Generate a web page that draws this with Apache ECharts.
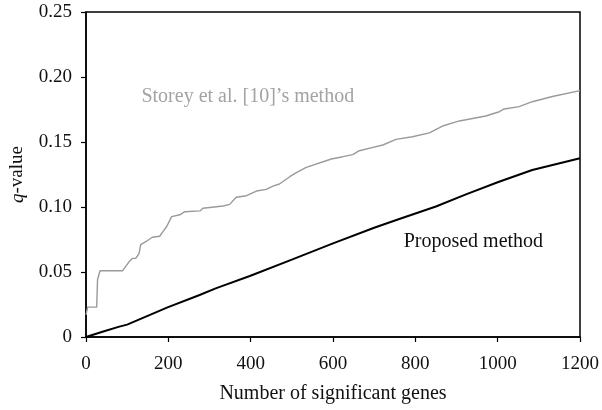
<!DOCTYPE html>
<html>
<head>
<meta charset="utf-8">
<script src="https://cdn.jsdelivr.net/npm/echarts@6/dist/echarts.min.js"></script>
<style>
  html, body { margin: 0; padding: 0; background: #fff; }
  #chart { width: 602px; height: 410px; }
</style>
</head>
<body>
<div id="chart"></div>
<script>
// Storey et al. [10]'s method (grey staircase curve)
const storeyX = [0, 4, 26, 28, 34, 89, 93, 105, 113, 121, 129, 133, 145, 161, 179, 187, 196, 208, 228, 240, 277, 284, 333, 349, 365, 390, 414, 438, 454, 470, 495, 511, 535, 596, 624, 648, 664, 697, 721, 753, 793, 834, 866, 907, 971, 1004, 1016, 1052, 1084, 1133, 1200];
const storeyQ = [0.017, 0.023, 0.023, 0.044, 0.051, 0.051, 0.0525, 0.058, 0.0605, 0.0605, 0.0644, 0.071, 0.0733, 0.0767, 0.0775, 0.081, 0.085, 0.0926, 0.094, 0.0964, 0.097, 0.099, 0.1008, 0.102, 0.1075, 0.1087, 0.1123, 0.1136, 0.116, 0.1177, 0.1233, 0.1264, 0.1305, 0.1369, 0.1387, 0.1403, 0.1433, 0.1459, 0.1477, 0.152, 0.154, 0.157, 0.1623, 0.1662, 0.170, 0.1733, 0.1754, 0.1772, 0.181, 0.185, 0.1895];
// Proposed method (black curve)
const proposedX = [0, 40, 81, 100, 198, 276, 315, 398, 500, 600, 700, 761, 850, 923, 1000, 1084, 1200];
const proposedQ = [0, 0.004, 0.008, 0.0095, 0.0228, 0.0323, 0.0374, 0.0469, 0.0595, 0.072, 0.084, 0.0908, 0.1004, 0.1097, 0.119, 0.1285, 0.1375];
// tick settings
const xMax = 1200, xStep = 200;
const yMax = 0.25, yStep = 0.05;

const pair = (xs, ys) => xs.map((x, i) => [x, ys[i]]);
const serif = 'Liberation Serif';

const chart = echarts.init(document.getElementById('chart'));
chart.setOption({
    animation: false,
    grid: {
        left: 86, right: 21, top: 12, bottom: 73,
        show: true, borderColor: '#000', borderWidth: 1.5, backgroundColor: 'transparent'
    },
    xAxis: {
        type: 'value', min: 0, max: xMax, interval: xStep,
        name: 'Number of significant genes',
        nameLocation: 'middle', nameGap: 47,
        nameTextStyle: { fontFamily: serif, fontSize: 20, color: '#111' },
        axisLine: { lineStyle: { color: '#000', width: 1.5 } },
        axisTick: { show: true, length: 5, lineStyle: { color: '#000', width: 1.2 } },
        axisLabel: { fontFamily: serif, fontSize: 19, color: '#111', margin: 18, formatter: v => String(v) },
        splitLine: { show: false }
    },
    yAxis: {
        type: 'value', min: 0, max: yMax, interval: yStep,
        name: '{i|q}-value',
        nameLocation: 'middle', nameGap: 59, nameRotate: 90,
        nameTextStyle: {
            fontFamily: serif, fontSize: 19, color: '#111',
            rich: { i: { fontFamily: serif, fontSize: 19, fontStyle: 'italic', color: '#111' } }
        },
        axisLine: { lineStyle: { color: '#000', width: 1.5 } },
        axisTick: { show: true, length: 5, lineStyle: { color: '#000', width: 1.2 } },
        axisLabel: {
            fontFamily: serif, fontSize: 19, color: '#111', margin: 14,
            formatter: v => v === 0 ? '0' : v.toFixed(2)
        },
        splitLine: { show: false }
    },
    series: [
        {
            type: 'line',
            data: pair(storeyX, storeyQ),
            symbol: 'none',
            lineStyle: { color: '#9a9a9a', width: 1.4 },
            markPoint: {
                symbol: 'circle', symbolSize: 0,
                data: [{ coord: [393, 0.1846], value: "Storey et al. [10]’s method" }],
                label: {
                    show: true, position: 'inside', formatter: '{c}',
                    fontFamily: serif, fontSize: 20, color: '#a3a3a3'
                }
            }
        },
        {
            type: 'line',
            data: pair(proposedX, proposedQ),
            symbol: 'none',
            lineStyle: { color: '#000', width: 2 },
            markPoint: {
                symbol: 'circle', symbolSize: 0,
                data: [{ coord: [941, 0.073], value: 'Proposed method' }],
                label: {
                    show: true, position: 'inside', formatter: '{c}',
                    fontFamily: serif, fontSize: 20, color: '#111'
                }
            }
        }
    ]
});
</script>
</body>
</html>
